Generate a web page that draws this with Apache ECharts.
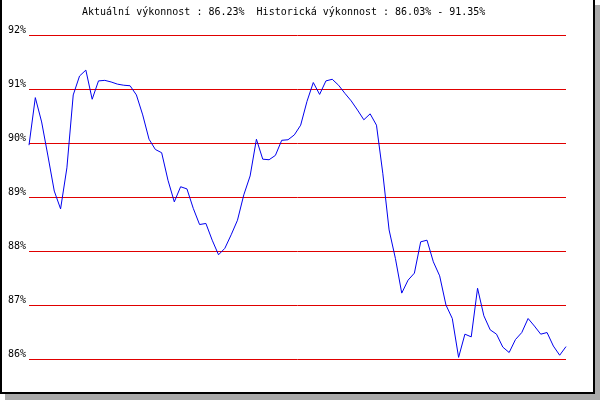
<!DOCTYPE html>
<html>
<head>
<meta charset="utf-8">
<script src="https://cdn.jsdelivr.net/npm/echarts@6/dist/echarts.min.js"></script>
<style>
html,body{margin:0;padding:0;background:#fff;}
#c{width:600px;height:400px;}
</style>
</head>
<body>
<div id="c"></div>
<script>
const titleText = "Aktuální výkonnost : 86.23%  Historická výkonnost : 86.03% - 91.35%";
const yMin = 86, yMax = 92, yStep = 1;
const values = [
  89.96, 90.84, 90.39, 89.76, 89.11, 88.78, 89.54, 90.89, 91.24, 91.35,
  90.81, 91.15, 91.16, 91.13, 91.09, 91.07, 91.06, 90.89, 90.52, 90.07,
  89.88, 89.82, 89.31, 88.91, 89.19, 89.15, 88.79, 88.49, 88.51, 88.20,
  87.93, 88.05, 88.30, 88.57, 89.04, 89.39, 90.07, 89.70, 89.69, 89.77,
  90.05, 90.06, 90.15, 90.33, 90.77, 91.12, 90.90, 91.15, 91.18, 91.07,
  90.92, 90.78, 90.61, 90.43, 90.54, 90.33, 89.44, 88.39, 87.86, 87.22,
  87.46, 87.59, 88.17, 88.20, 87.80, 87.54, 87.00, 86.75, 86.03, 86.46,
  86.41, 87.31, 86.80, 86.54, 86.46, 86.22, 86.12, 86.36, 86.49, 86.75,
  86.61, 86.46, 86.49, 86.24, 86.07, 86.23
];
const categories = values.map((v, i) => String(i + 1));

const font = "'DejaVu Sans Mono', monospace";
const chart = echarts.init(document.getElementById('c'), null, {renderer: 'canvas'});
chart.setOption({
  backgroundColor: '#ffffff',
  animation: false,
  title: {
    text: titleText,
    left: 82,
    top: 7,
    padding: 0,
    textStyle: {fontFamily: font, fontSize: 10, fontWeight: 'normal', color: '#000'}
  },
  graphic: [
    {type: 'rect', z: -10, silent: true, shape: {x: 5, y: 5, width: 595, height: 395}, style: {fill: '#aaaaaa'}},
    {type: 'rect', z: -9, silent: true, shape: {x: 0, y: 0, width: 595, height: 394}, style: {fill: '#ffffff'}},
    {type: 'rect', z: -8, silent: true, shape: {x: 0, y: 0, width: 2, height: 394}, style: {fill: '#000'}},
    {type: 'rect', z: -8, silent: true, shape: {x: 593, y: 0, width: 2, height: 394}, style: {fill: '#000'}},
    {type: 'rect', z: -8, silent: true, shape: {x: 0, y: 392, width: 595, height: 2}, style: {fill: '#000'}}
  ],
  grid: {left: 29, right: 34, top: 35, bottom: 41, containLabel: false},
  xAxis: {
    type: 'category',
    data: categories,
    boundaryGap: false,
    show: false
  },
  yAxis: {
    type: 'value',
    min: yMin,
    max: yMax,
    interval: yStep,
    axisLine: {show: false},
    axisTick: {show: false},
    splitLine: {show: true, lineStyle: {color: '#e00000', width: 1}},
    axisLabel: {
      formatter: v => v + '%',
      fontFamily: font,
      fontSize: 10,
      color: '#000',
      margin: 3,
      verticalAlign: 'bottom'
    }
  },
  series: [{
    type: 'line',
    data: values,
    showSymbol: false,
    symbol: 'none',
    lineStyle: {color: '#0000ee', width: 1},
    itemStyle: {color: '#0000ee'}
  }]
});
</script>
</body>
</html>
